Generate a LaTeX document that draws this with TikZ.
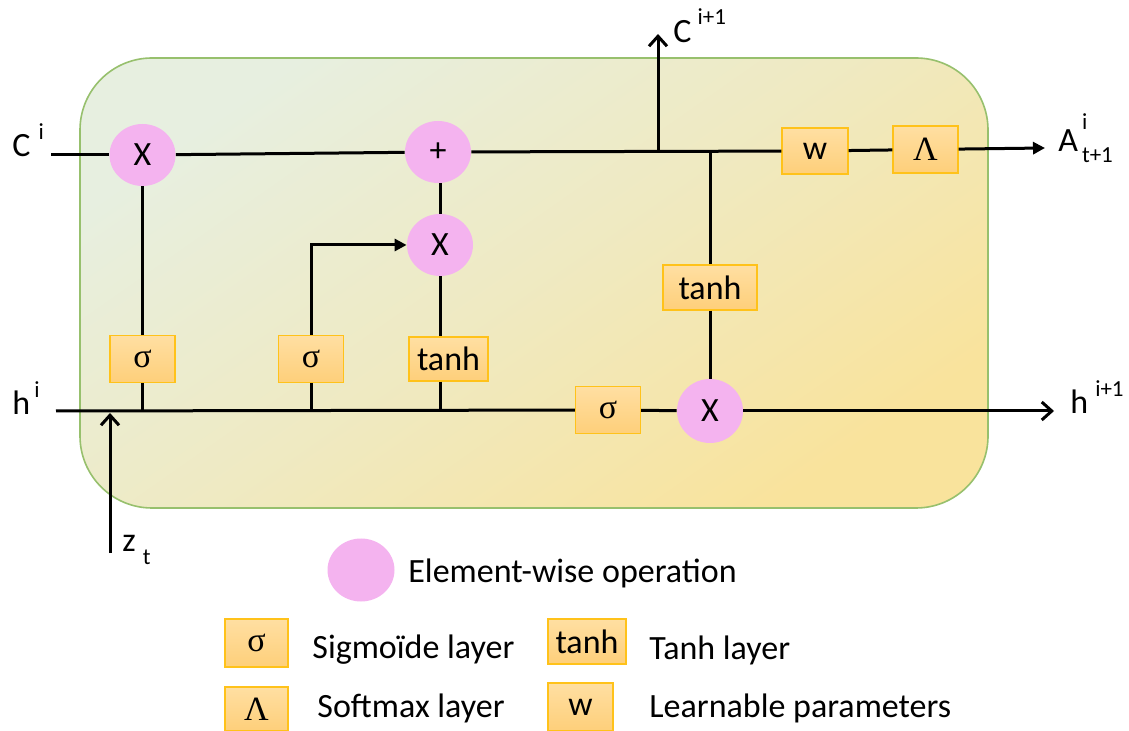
\documentclass[tikz,border=0pt]{standalone}
\usepackage{fontspec}
\setmainfont{Carlito}
\newfontfamily\symfont{Liberation Serif}
\usetikzlibrary{shapes.geometric,arrows.meta}

\definecolor{opfill}{HTML}{F4B3EF}
\definecolor{layertop}{HTML}{FFDFA2}
\definecolor{layerbot}{HTML}{FECF7A}
\definecolor{layerline}{HTML}{FFC21A}
\definecolor{celltop}{HTML}{E7EFE0}
\definecolor{cellbot}{HTML}{F9E39C}
\definecolor{cellline}{HTML}{97C06D}

\newcommand{\idxfont}{\fontsize{11.5}{12}\selectfont}

\begin{document}
\begin{tikzpicture}[x=0.5pt,y=-0.5pt,font=\fontsize{17}{20}\selectfont,
    elemop/.style={ellipse, fill=opfill, minimum width=33pt, minimum height=31pt, inner sep=0pt},
    layer/.style={rectangle, draw=layerline, line width=0.6pt, top color=layertop, bottom color=layerbot,
        minimum width=32.5pt, minimum height=23.5pt, inner sep=0pt},
    lbl/.style={inner sep=0pt, anchor=base west},
    wire/.style={line width=1.5pt},
    openarrow/.style={wire, -{Straight Barb[length=5pt,width=9pt]}},
    fillarrow/.style={wire, -{Triangle[length=6pt,width=6pt]}}]
    \useasboundingbox (0,0) rectangle (1129,731);

    % cell
    \draw[draw=cellline, line width=0.8pt, rounded corners=36pt, top color=celltop, bottom color=cellbot,
        middle color=celltop!55!cellbot, shading angle=35] (80,58) rectangle (988,508);

    % operations
    \node[elemop] (mx1) at (142.5,155) {X};
    \node[elemop] (add) at (438,152) {+};
    \node[elemop] (mx2) at (440,245) {X};
    \node[elemop, minimum height=32pt] (mx3) at (710,411) {X};

    % layers
    \node[layer] (sig1) at (142.5,359) {\symfont σ};
    \node[layer] (sig2) at (311,359) {\symfont σ};
    \node[layer, minimum width=39.5pt, minimum height=22pt] (tanh1) at (448.5,359) {tanh};
    \node[layer, minimum width=47pt, minimum height=22.5pt] (tanh2) at (710,287.5) {tanh};
    \node[layer] (sig3) at (608,410) {\symfont σ};
    \node[layer, minimum width=33pt, minimum height=23pt] (wbox) at (815,151) {w};
    \node[layer] (lam) at (925.5,149.5) {\symfont Λ};

    % end points
    \coordinate (cstart) at (51,155);
    \coordinate (aend) at (1045,148);
    \coordinate (csplit) at (658,151.5);
    \coordinate (cup) at (658,34);
    \coordinate (hstart) at (56,411);
    \coordinate (hend) at (1054,411);
    \coordinate (zstart) at (110,553);
    \coordinate (zend) at (110,413);

    % labels
    \node[lbl] (cin) at (12,157) {C\hspace{4pt}\raisebox{8.5pt}{\idxfont i}};
    \node[lbl] (cout) at (673,43) {C\hspace{3pt}\raisebox{9pt}{\idxfont i+1}};
    \node[lbl] (aout) at (1058,152) {A\hspace{2pt}\rlap{\raisebox{11pt}{\idxfont i}}\raisebox{-5.5pt}{\idxfont t+1}};
    \node[lbl] (hin) at (12,415) {h\hspace{2pt}\raisebox{8.5pt}{\idxfont i}};
    \node[lbl] (hout) at (1070,414) {h\hspace{3.5pt}\raisebox{8.5pt}{\idxfont i+1}};
    \node[lbl] (zin) at (122,552) {z\hspace{3.5pt}\raisebox{-6.5pt}{\idxfont t}};

    % cell state line
    \draw[wire] (cstart) -- (mx1);
    \draw[wire] (mx1) -- (add);
    \draw[wire] (add) -- (wbox);
    \draw[wire] (wbox) -- (lam);
    \draw[fillarrow] (lam) -- (aend);
    \draw[openarrow] (csplit) -- (cup);
    \draw[wire] (tanh2.north |- wbox) -- (tanh2.north);
    \draw[wire] (tanh2) -- (mx3);

    % gates
    \draw[wire] (mx1) -- (sig1);
    \draw[wire] (sig1) -- (sig1 |- hstart);
    \draw[wire] (sig2) -- (sig2 |- hstart);
    \draw[fillarrow] (sig2.north) |- (mx2);
    \draw[wire] (mx2.north) -- (mx2 |- add.south);
    \draw[wire] (mx2) -- (mx2 |- tanh1.north);
    \draw[wire] (mx2 |- tanh1.south) -- (mx2 |- hstart);

    % hidden line
    \draw[wire] (hstart) -- (sig3);
    \draw[wire] (sig3) -- (mx3);
    \draw[openarrow] (mx3) -- (hend);
    \draw[openarrow] (zstart) -- (zend);

    % legend
    \node[elemop, minimum width=33.5pt, minimum height=31.5pt] (legop) at (361,570) {};
    \node[lbl, anchor=west] (legoptxt) at (408,573) {Element-wise operation};
    \node[layer, minimum width=31.5pt, minimum height=24pt] (legsig) at (256.5,643) {\symfont σ};
    \node[lbl, anchor=west] (legsigtxt) at (312,650) {Sigmoïde layer};
    \node[layer, minimum width=39pt, minimum height=22.5pt] (legtanh) at (587,641.5) {tanh};
    \node[lbl, anchor=west] (legtanhtxt) at (649,650) {Tanh layer};
    \node[layer, minimum width=31.5pt, minimum height=22pt] (leglam) at (256.5,709) {\symfont Λ};
    \node[lbl, anchor=west] (leglamtxt) at (317,708) {Softmax layer};
    \node[layer, minimum width=32.5pt, minimum height=24pt] (legw) at (580.5,707) {w};
    \node[lbl, anchor=west] (legwtxt) at (649,708) {Learnable parameters};
\end{tikzpicture}
\end{document}
